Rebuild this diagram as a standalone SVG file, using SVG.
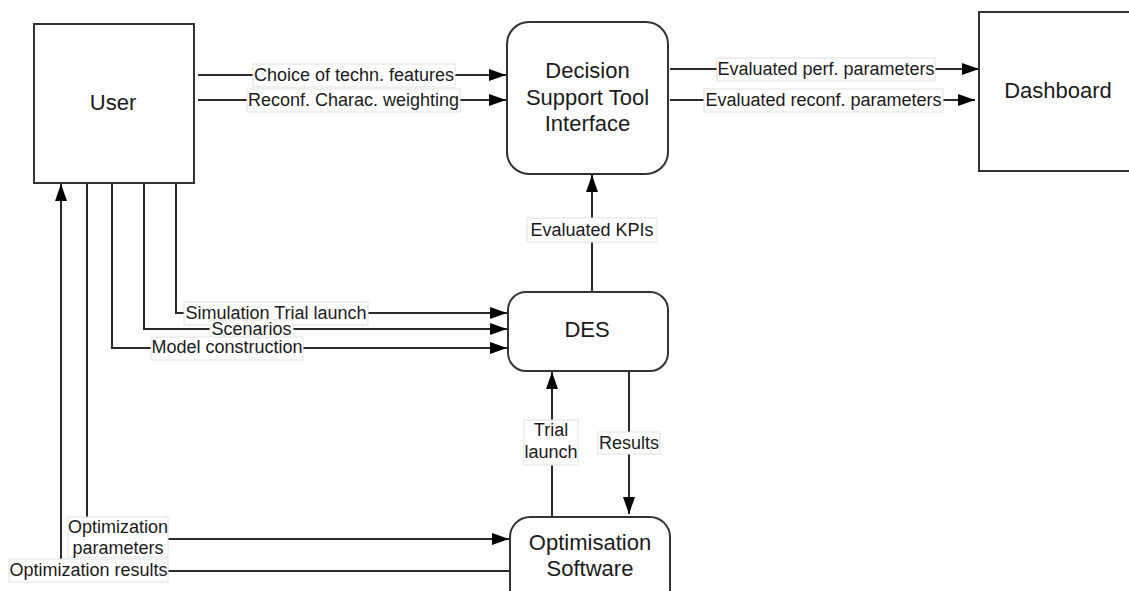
<svg xmlns="http://www.w3.org/2000/svg" width="1129" height="591" viewBox="0 0 1129 591">
<style>
.node{fill:#fff;stroke:#333;stroke-width:2}
.nt{font-family:"Liberation Sans",Arial,sans-serif;font-size:22px;fill:#1a1a1a;text-anchor:middle}
.edge{fill:none;stroke:#2a2a2a;stroke-width:2}
.lb{fill:#fff;stroke:#e2e2e2;stroke-width:1}
.lt{font-family:"Liberation Sans",Arial,sans-serif;font-size:18px;fill:#1a1a1a;text-anchor:middle}
</style>
<defs>
<marker id="arr" markerUnits="userSpaceOnUse" markerWidth="18" markerHeight="14" refX="17" refY="6" orient="auto">
<path d="M0,0 L17,6 L0,12 Z" fill="#000"/>
</marker>
</defs>
<rect width="1129" height="591" fill="#fff"/>
<g id="connectors">
<path class="edge" d="M198,75 H506" marker-end="url(#arr)"/>
<path class="edge" d="M198,100 H506" marker-end="url(#arr)"/>
<path class="edge" d="M670,69 H979" marker-end="url(#arr)"/>
<path class="edge" d="M670,100 H975" marker-end="url(#arr)"/>
<path class="edge" d="M592,291 V175" marker-end="url(#arr)"/>
<path class="edge" d="M176,183 V313 H507" marker-end="url(#arr)"/>
<path class="edge" d="M144,183 V329 H507" marker-end="url(#arr)"/>
<path class="edge" d="M112,183 V348 H507" marker-end="url(#arr)"/>
<path class="edge" d="M552,516 V372" marker-end="url(#arr)"/>
<path class="edge" d="M629,372 V514" marker-end="url(#arr)"/>
<path class="edge" d="M87,183 V539 H509" marker-end="url(#arr)"/>
<path class="edge" d="M510,571 H61 V184" marker-end="url(#arr)"/>
<g id="labels">
<rect class="lb" x="253" y="64" width="202" height="23"/>
<text class="lt" x="354" y="81">Choice of techn. features</text>
<rect class="lb" x="247" y="89" width="213" height="23"/>
<text class="lt" x="353.5" y="106">Reconf. Charac. weighting</text>
<rect class="lb" x="717" y="58" width="218" height="23"/>
<text class="lt" x="826" y="75">Evaluated perf. parameters</text>
<rect class="lb" x="704" y="89" width="239" height="23"/>
<text class="lt" x="823.5" y="106">Evaluated reconf. parameters</text>
<rect class="lb" x="527" y="218" width="130" height="24"/>
<text class="lt" x="592" y="236">Evaluated KPIs</text>
<rect class="lb" x="184" y="302" width="184" height="23"/>
<text class="lt" x="276" y="319">Simulation Trial launch</text>
<rect class="lb" x="210" y="320" width="83" height="18"/>
<text class="lt" x="251.5" y="335">Scenarios</text>
<rect class="lb" x="151" y="337" width="152" height="23"/>
<text class="lt" x="227" y="353">Model construction</text>
<rect class="lb" x="524" y="420" width="54" height="45"/>
<text class="lt" x="551" y="436">Trial</text>
<text class="lt" x="551" y="458">launch</text>
<rect class="lb" x="598" y="432" width="62" height="22"/>
<text class="lt" x="629" y="449">Results</text>
<rect class="lb" x="68" y="517" width="100" height="40"/>
<text class="lt" x="118" y="533">Optimization</text>
<text class="lt" x="118" y="554">parameters</text>
<rect class="lb" x="9" y="559" width="159" height="23"/>
<text class="lt" x="88.5" y="576">Optimization results</text>
</g>
</g>
<g id="user">
<rect class="node" x="34" y="24" width="160" height="159"/>
<text class="nt" x="113" y="110">User</text>
</g>
<g id="dst">
<rect class="node" x="507" y="22" width="161" height="152" rx="22" ry="22"/>
<text class="nt" x="587.5" y="78">Decision</text>
<text class="nt" x="587.5" y="105">Support Tool</text>
<text class="nt" x="587.5" y="131">Interface</text>
</g>
<g id="dashboard">
<rect class="node" x="979" y="12" width="170" height="159"/>
<text class="nt" x="1058" y="98">Dashboard</text>
</g>
<g id="des">
<rect class="node" x="508" y="292" width="160" height="79" rx="18" ry="18"/>
<text class="nt" x="587" y="337">DES</text>
</g>
<g id="opt">
<rect class="node" x="510" y="517" width="160" height="100" rx="20" ry="20"/>
<text class="nt" x="590" y="550">Optimisation</text>
<text class="nt" x="590" y="576">Software</text>
</g>
</svg>
